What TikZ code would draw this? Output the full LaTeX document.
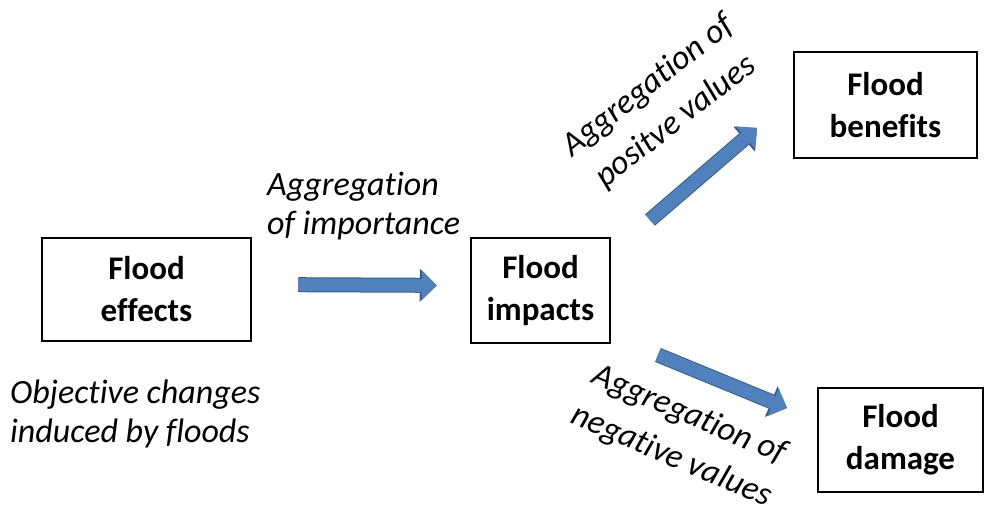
\documentclass[tikz,border=0pt]{standalone}
\usepackage{fontspec}
\setmainfont[Ligatures=NoCommon]{Carlito}
\usetikzlibrary{arrows.meta}
\definecolor{arrowblue}{HTML}{4F81BD}
\definecolor{arrowedge}{HTML}{385D8A}
\tikzset{
  box/.style={draw, line width=2.5pt, align=center, inner sep=0pt,
    font=\fontsize{33}{42}\selectfont\bfseries},
  note/.style={inner sep=0pt, font=\fontsize{34}{39}\selectfont\itshape},
  slanted/.style={note, align=center, font=\fontsize{34}{45}\selectfont\itshape},
  bigarrow/.style={
    preaction={draw=arrowedge, line width=15pt,
      -{Triangle[length=17pt,width=33pt,line width=0pt]}},
    draw=arrowblue, line width=13pt,
    -{Triangle[length=15pt,width=30pt,line width=0pt]}},
}
\begin{document}
\begin{tikzpicture}[x=1pt,y=-1pt]
  \useasboundingbox (0,0) rectangle (990,513);
  % boxes
  \node[box, minimum width=209pt, minimum height=103pt] (effects) at (146.5,289.5) {Flood\\effects};
  \node[box, minimum width=139pt, minimum height=105pt] (impacts) at (540.5,290.5) {Flood\\impacts};
  \node[box, minimum width=183pt, minimum height=106pt] (benefits) at (885.5,105) {Flood\\benefits};
  \node[box, minimum width=165pt, minimum height=104pt] (damage) at (900.5,440) {Flood\\damage};
  % texts
  \node[note, align=left, anchor=north west] (importance) at (267,172) {Aggregation\\of importance};
  \node[note, align=left, anchor=north west] (changes) at (10,380) {Objective changes\\induced by floods};
  \node[slanted, rotate=38] (positive) at (662,104) {Aggregation of\\positve values};
  \node[slanted, rotate=-23] (negative) at (680,436) {Aggregation of\\negative values};
  % arrows
  \coordinate (posfrom) at (650,220);
  \coordinate (posto) at (757,128);
  \coordinate (negfrom) at (658,355);
  \coordinate (negto) at (787,408);
  \draw[bigarrow, shorten <=46pt, shorten >=33pt] ([yshift=5pt]effects.east) -- ([yshift=5pt]impacts.west);
  \draw[bigarrow] (posfrom) -- (posto);
  \draw[bigarrow] (negfrom) -- (negto);
\end{tikzpicture}
\end{document}
